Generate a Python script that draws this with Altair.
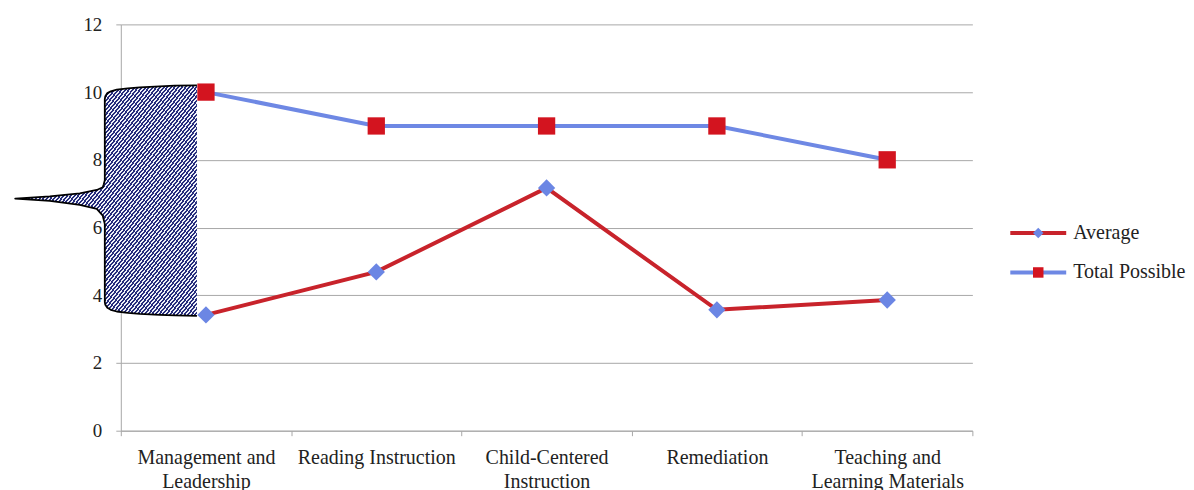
import altair as alt
import pandas as pd

# ---------------- data ----------------
categories = ["Management and Leadership", "Reading Instruction",
              "Child-Centered Instruction", "Remediation",
              "Teaching and Learning Materials"]
label_lines = [["Management and", "Leadership"], ["Reading Instruction"],
               ["Child-Centered", "Instruction"], ["Remediation"],
               ["Teaching and", "Learning Materials"]]
average = [3.42, 4.69, 7.17, 3.57, 3.86]
total_possible = [10, 9, 9, 9, 8]
series_names = ["Average", "Total Possible"]
line_colors = ["#c8232b", "#6e88e4"]
marker_colors = ["#6b86e4", "#d3141f"]
marker_shapes = ["diamond", "square"]
y_ticks = [0, 2, 4, 6, 8, 10, 12]

# brace call-out: y in chart units, x in category-index units (left edge)
brace_y = [10.20, 10.19, 10.17, 10.14, 10.11, 10.07, 10.02, 9.97, 9.88, 9.79,
           7.40, 7.28, 7.19, 7.11, 7.01, 6.92, 6.855, 6.79, 6.67, 6.55, 6.35,
           6.10, 3.80, 3.72, 3.63, 3.57, 3.52, 3.48, 3.45, 3.42, 3.405, 3.39]
brace_x = [-0.053, -0.183, -0.271, -0.388, -0.459, -0.524, -0.559, -0.579,
           -0.591, -0.594, -0.594, -0.600, -0.606, -0.641, -0.741, -0.917,
           -1.120, -0.917, -0.741, -0.641, -0.606, -0.594, -0.594, -0.591,
           -0.579, -0.559, -0.524, -0.459, -0.388, -0.271, -0.183, -0.053]
brace_right = -0.053

# ---------------- tables ----------------
rows = []
for i, c in enumerate(categories):
    rows.append({"category": c, "series": "Average", "value": average[i]})
    rows.append({"category": c, "series": "Total Possible", "value": total_possible[i]})
df = pd.DataFrame(rows)

brace_df = pd.DataFrame({"value": brace_y, "bx": brace_x,
                         "bx2": [brace_right] * len(brace_y),
                         "i": list(range(len(brace_y)))})

legend_df = pd.DataFrame({"series": series_names, "line_color": line_colors,
                          "marker_color": marker_colors, "shape": marker_shapes,
                          "start": [0, 0], "mid": [0.5, 0.5], "end": [1, 1]})

# ---------------- styles ----------------
FONT = "Liberation Serif"
FS = 20
FS_Y = 19
GRID = "#a8a8a8"

# hatch gradient (45 deg "/" stripes)
n_periods = 100
navy, white = "#262c7c", "#eef1f8"
stops = []
for j in range(n_periods):
    a, b, c = j / n_periods, (j + 0.55) / n_periods, (j + 1) / n_periods
    stops += [alt.GradientStop(offset=a, color=navy),
              alt.GradientStop(offset=b, color=navy),
              alt.GradientStop(offset=b, color=white),
              alt.GradientStop(offset=c, color=white)]
hatch = alt.Gradient(gradient="linear", stops=stops, x1=0, y1=0, x2=1, y2=1)

label_map = "{" + ", ".join(
    "'" + c + "': [" + ", ".join("'" + l + "'" for l in ls) + "]"
    for c, ls in zip(categories, label_lines)) + "}"

yscale = alt.Scale(domain=[0, 12], nice=False, zero=True)
y_axis = alt.Axis(title=None, values=y_ticks, labelFont=FONT, labelFontSize=FS_Y,
                  labelColor="#222222", labelPadding=14, tickSize=5,
                  tickColor=GRID, domainColor=GRID, gridColor=GRID, gridWidth=1)
xcat = alt.X("category:N", sort=categories, bandPosition=0.5,
             scale=alt.Scale(type="band", paddingInner=0, paddingOuter=0),
             axis=alt.Axis(title=None, labelAngle=0, labelFont=FONT, labelFontSize=FS,
                           labelColor="#222222", labelExpr=label_map + "[datum.label]",
                           labelLineHeight=24, labelBaseline="top", labelPadding=12,
                           tickBand="extent", tickSize=5, tickColor=GRID,
                           domainColor=GRID, grid=False))
yax = alt.Y("value:Q", scale=yscale, axis=y_axis)

base = alt.Chart(df)
lines = base.mark_line(strokeWidth=4).encode(
    x=xcat, y=yax,
    color=alt.Color("series:N", scale=alt.Scale(domain=series_names, range=line_colors),
                    legend=None),
    detail="series:N")
points = base.mark_point(filled=True, opacity=1, size=300).encode(
    x=xcat, y=yax,
    shape=alt.Shape("series:N", scale=alt.Scale(domain=series_names, range=marker_shapes),
                    legend=None),
    fill=alt.Fill("series:N", scale=alt.Scale(domain=series_names, range=marker_colors),
                  legend=None))

bx_scale = alt.Scale(domain=[-0.5, 4.5], nice=False, zero=False)
brace_area = alt.Chart(brace_df).mark_area(orient="horizontal", color=hatch,
                                           clip=False).encode(
    x=alt.X("bx:Q", scale=bx_scale, axis=None),
    x2=alt.X2("bx2"),
    y=yax)
brace_line = alt.Chart(brace_df).mark_line(color="black", strokeWidth=1.8,
                                           strokeJoin="round", clip=False).encode(
    x=alt.X("bx:Q", scale=bx_scale, axis=None),
    y=yax,
    order="i:Q")

brace = alt.layer(brace_area, brace_line)
series = alt.layer(lines, points)
main = alt.layer(brace, series).resolve_scale(x="independent").properties(
    width=853, height=407)

# ---------------- legend view ----------------
lx = alt.Scale(domain=[0, 1], range=[0, 56], nice=False, zero=False)
ly = alt.Y("series:N", sort=series_names, axis=None,
           scale=alt.Scale(type="point", range=[209, 248.5], padding=0))
lbase = alt.Chart(legend_df)
lrule = lbase.mark_rule(strokeWidth=4).encode(
    x=alt.X("start:Q", scale=lx, axis=None), x2="end:Q", y=ly,
    color=alt.Color("line_color:N", scale=None))
lpts = lbase.mark_point(filled=True, opacity=1, size=110).encode(
    x=alt.X("mid:Q", scale=lx, axis=None), y=ly,
    shape=alt.Shape("shape:N", scale=None),
    fill=alt.Fill("marker_color:N", scale=None))
ltext = lbase.mark_text(align="left", dx=7, font=FONT, fontSize=FS,
                        color="#222222").encode(
    x=alt.X("end:Q", scale=lx, axis=None), y=ly, text="series:N")
legend = alt.layer(lrule, lpts, ltext).properties(width=56, height=407)

chart = alt.hconcat(main, legend, spacing=35).configure_view(stroke=None).properties(
    padding={"left": 6, "top": 7, "right": 0, "bottom": 0})

chart.save("out.html", embed_options={"renderer": "svg", "actions": False})
